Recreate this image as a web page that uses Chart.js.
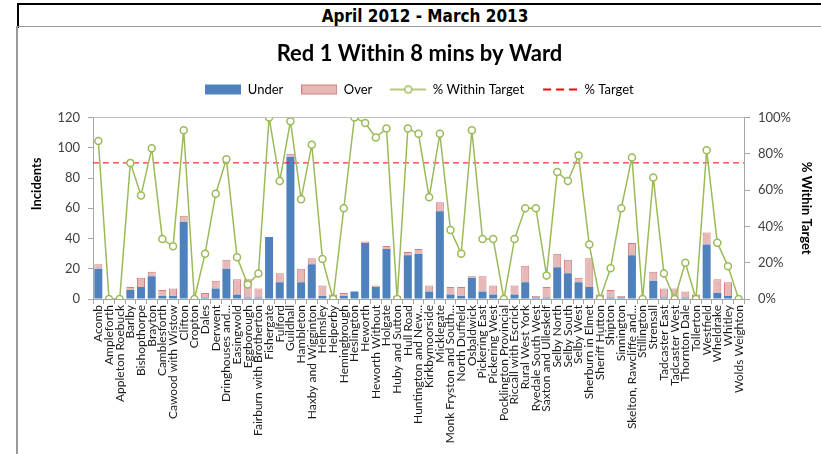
<!DOCTYPE html>
<html>
<head>
<meta charset="utf-8">
<script src="https://cdn.jsdelivr.net/npm/chart.js@4/dist/chart.umd.min.js"></script>
<style>
    body { margin: 0; background: #fff; width: 821px; height: 454px; overflow: hidden; position: relative; }
    #header {
        position: absolute; left: 17px; top: 3px; width: 812px; height: 23px;
        border-top: 2px solid #000; border-left: 2px solid #000;
        font: bold 17px "Liberation Sans Narrow", "DejaVu Sans Condensed", "Roboto Condensed", sans-serif;
        font-stretch: condensed;
        line-height: 23px; text-align: center; color: #000;
    }
    #frame {
        position: absolute; left: 16px; top: 26px; width: 820px; height: 440px;
        border-top: 1px solid #9a9a9a; border-left: 2px solid #9a9a9a;
    }
    #chart-wrap { position: absolute; left: 18px; top: 27px; width: 803px; height: 427px; }
</style>
</head>
<body>
<div id="header">April 2012 - March 2013</div>
<div id="frame"></div>
<div id="chart-wrap"><canvas id="wardChart"></canvas></div>
<script>
// Data
const categories = [
    'Acomb', 'Ampleforth', 'Appleton Roebuck', 'Barlby', 'Bishopthorpe', 'Brayton',
    'Camblesforth', 'Cawood with Wistow', 'Clifton', 'Cropton', 'Dales', 'Derwent',
    'Dringhouses and...', 'Easingwold', 'Eggborough', 'Fairburn with Brotherton', 'Fishergate',
    'Fulford', 'Guildhall', 'Hambleton', 'Haxby and Wigginton', 'Helmsley', 'Helperby',
    'Hemingbrough', 'Heslington', 'Heworth', 'Heworth Without', 'Holgate', 'Huby and Sutton',
    'Hull Road', 'Huntington and New...', 'Kirkbymoorside', 'Micklegate', 'Monk Fryston and South...',
    'North Duffield', 'Osbaldwick', 'Pickering East', 'Pickering West', 'Pocklington Provincial',
    'Riccall with Escrick', 'Rural West York', 'Ryedale South West', 'Saxton and Ulleskelf',
    'Selby North', 'Selby South', 'Selby West', 'Sherburn in Elmet', 'Sheriff Hutton', 'Shipton',
    'Sinnington', 'Skelton, Rawcliffe and...', 'Stillington', 'Strensall', 'Tadcaster East',
    'Tadcaster West', 'Thornton Dale', 'Tollerton', 'Westfield', 'Wheldrake', 'Whitley', 'Wolds Weighton'
];
const underCounts = [
    20, 0, 0, 6, 8, 15, 2, 2, 51, 0, 1, 7, 20, 3, 1, 1, 41, 11, 94, 11, 23, 2, 0, 2, 5, 37, 8, 33, 0, 29,
    30, 5, 58, 3, 2, 14, 5, 3, 0, 3, 11, 1, 1, 21, 17, 11, 8, 0, 1, 1, 29, 0, 12, 1, 0, 1, 0, 36, 4, 2, 0
];
const overCounts = [
    3, 1, 0, 2, 6, 3, 4, 5, 4, 0, 3, 5, 6, 10, 12, 6, 0, 6, 2, 9, 4, 7, 3, 2, 0, 1, 1, 2, 2, 2,
    3, 4, 6, 5, 6, 1, 10, 6, 0, 6, 11, 1, 7, 9, 9, 3, 19, 3, 5, 1, 8, 0, 6, 6, 7, 4, 3, 8, 9, 9, 0
];
const pctWithinTarget = [
    87, 0, 0, 75, 57, 83, 33, 29, 93, 0, 25, 58, 77, 23, 8, 14, 100, 65, 98, 55, 85, 22, 0, 50, 100, 97, 89, 94, 0, 94,
    91, 56, 91, 38, 25, 93, 33, 33, 0, 33, 50, 50, 13, 70, 65, 79, 30, 0, 17, 50, 78, 0, 67, 14, 0, 20, 0, 82, 31, 18, 0
];
const targetPct = 75;
const incidentMax = 120;
const incidentStep = 20;
const pctMax = 100;
const pctStep = 10;

// Colours
const BLUE = '#4F81BD';
const PINK = '#E6B9B8';
const PINK_EDGE = '#D07F7D';
const GREEN = '#9BBB59';
const RED = '#FF0000';
const AXIS = '#A6A6A6';

Chart.defaults.font.family = 'Lato, "Open Sans", sans-serif';

// Legend symbols
const makeSymbol = (draw) => {
    const c = document.createElement('canvas');
    c.width = 36;
    c.height = 12;
    draw(c.getContext('2d'));
    return c;
};

const underSymbol = makeSymbol(ctx => {
    ctx.fillStyle = BLUE;
    ctx.fillRect(0, 1, 36, 10);
});
const overSymbol = makeSymbol(ctx => {
    ctx.fillStyle = PINK;
    ctx.fillRect(0, 1, 36, 10);
    ctx.strokeStyle = PINK_EDGE;
    ctx.strokeRect(0.5, 1.5, 35, 9);
});
const withinSymbol = makeSymbol(ctx => {
    ctx.strokeStyle = GREEN;
    ctx.lineWidth = 1.5;
    ctx.beginPath();
    ctx.moveTo(0, 6);
    ctx.lineTo(36, 6);
    ctx.stroke();
    ctx.beginPath();
    ctx.arc(18, 6, 3.5, 0, Math.PI * 2);
    ctx.fillStyle = '#fff';
    ctx.fill();
    ctx.stroke();
});
const targetSymbol = makeSymbol(ctx => {
    ctx.strokeStyle = RED;
    ctx.lineWidth = 2;
    ctx.setLineDash([8, 5]);
    ctx.beginPath();
    ctx.moveTo(1, 6);
    ctx.lineTo(36, 6);
    ctx.stroke();
});

const legendItems = [
    {text: 'Under', pointStyle: underSymbol},
    {text: 'Over', pointStyle: overSymbol},
    {text: '% Within Target', pointStyle: withinSymbol},
    {text: '% Target', pointStyle: targetSymbol}
];

// Target line drawn through the right-hand scale, under the % line
const targetLine = {
    id: 'targetLine',
    beforeDatasetDraw(chart, args) {
        if (args.index !== 2) return;
        const {ctx, chartArea, scales} = chart;
        const y = scales.y2.getPixelForValue(targetPct);
        ctx.save();
        ctx.strokeStyle = RED;
        ctx.lineWidth = 1;
        ctx.setLineDash([6, 4]);
        ctx.beginPath();
        ctx.moveTo(chartArea.left, y);
        ctx.lineTo(chartArea.right, y);
        ctx.stroke();
        ctx.restore();
    }
};

const ctx = document.getElementById('wardChart').getContext('2d');
new Chart(ctx, {
    type: 'bar',
    data: {
        labels: categories,
        datasets: [
            {
                label: 'Under',
                data: underCounts,
                backgroundColor: BLUE,
                borderWidth: 0,
                yAxisID: 'y',
                order: 1,
                barPercentage: 0.75,
                categoryPercentage: 1
            },
            {
                label: 'Over',
                data: overCounts,
                backgroundColor: PINK,
                borderColor: PINK_EDGE,
                borderWidth: 1,
                yAxisID: 'y',
                order: 1,
                barPercentage: 0.75,
                categoryPercentage: 1
            },
            {
                type: 'line',
                label: '% Within Target',
                data: pctWithinTarget,
                yAxisID: 'y2',
                order: 0,
                borderColor: GREEN,
                borderWidth: 1.5,
                tension: 0,
                pointRadius: 3.5,
                pointBorderWidth: 1.5,
                pointBackgroundColor: '#fff',
                pointBorderColor: GREEN
            }
        ]
    },
    options: {
        responsive: true,
        maintainAspectRatio: false,
        animation: false,
        layout: {padding: 0},
        plugins: {
            tooltip: {enabled: false},
            title: {
                display: true,
                text: 'Red 1 Within 8 mins by Ward',
                color: '#000',
                font: {size: 22, weight: 'bold', lineHeight: 1},
                padding: {top: 16, bottom: 0}
            },
            subtitle: {
                // empty spacer between legend and plot
                display: true,
                text: '',
                weight: 500,
                font: {size: 11.5, lineHeight: 1},
                padding: 0
            },
            legend: {
                display: true,
                labels: {
                    usePointStyle: true,
                    pointStyleWidth: 36,
                    padding: 18,
                    color: '#3a3a3a',
                    font: {size: 13},
                    generateLabels: () => legendItems.map((item, i) => ({
                        text: item.text,
                        pointStyle: item.pointStyle,
                        fillStyle: 'transparent',
                        strokeStyle: 'transparent',
                        lineWidth: 0,
                        hidden: false,
                        datasetIndex: i
                    }))
                }
            }
        },
        scales: {
            x: {
                stacked: true,
                grid: {offset: true, drawOnChartArea: false, tickLength: 5, tickColor: AXIS},
                border: {color: AXIS},
                ticks: {
                    autoSkip: false,
                    maxRotation: 90,
                    minRotation: 90,
                    padding: 1,
                    color: '#1a1a1a',
                    font: {size: 12}
                },
                afterFit: (scale) => { scale.height = 155; }
            },
            y: {
                position: 'left',
                stacked: true,
                min: 0,
                max: incidentMax,
                ticks: {stepSize: incidentStep, padding: 8, color: '#404040', font: {size: 13}},
                grid: {
                    tickLength: 5,
                    tickColor: AXIS,
                    color: (c) => (c.tick && c.tick.value === incidentMax ? '#BFBFBF' : 'rgba(0,0,0,0)')
                },
                border: {color: AXIS},
                title: {
                    display: true,
                    text: '\u2003\u2003\u2003\u2003\u2003Incidents',
                    color: '#000',
                    font: {size: 13, weight: 'bold'},
                    padding: {top: 11, bottom: 0}
                },
                afterFit: (scale) => { scale.width = 75; }
            },
            y2: {
                position: 'right',
                min: 0,
                max: pctMax,
                ticks: {
                    stepSize: pctStep,
                    padding: 8,
                    color: '#404040',
                    font: {size: 13},
                    callback: (value) => value + '%'
                },
                grid: {drawOnChartArea: false, tickLength: 6, tickColor: AXIS},
                border: {color: AXIS},
                title: {
                    display: true,
                    text: '% Within Target',
                    color: '#000',
                    font: {size: 13, weight: 'bold'},
                    padding: {top: 7, bottom: 0}
                },
                afterFit: (scale) => { scale.width = 77; }
            }
        }
    },
    plugins: [targetLine]
});
</script>
</body>
</html>
